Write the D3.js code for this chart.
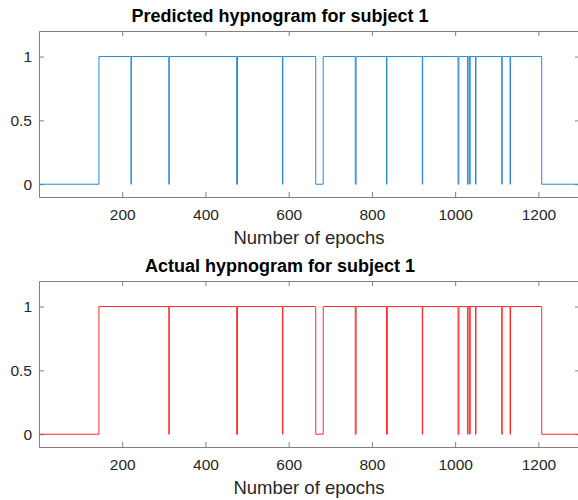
<!DOCTYPE html>
<html>
<head>
<meta charset="utf-8">
<script src="https://cdn.jsdelivr.net/npm/d3@7"></script>
<style>
  body { margin: 0; background: #fff; }
  svg { display: block; font-family: "Liberation Sans", Arial, sans-serif; }
  .axis path, .axis line { stroke: #808080; }
  .axis text { fill: #262626; font-size: 15.5px; }
</style>
</head>
<body>
<div class="chart"></div>
<script>
// Epochs where the stage changes, and the stage from that epoch on
const predictedEpochs = [1, 144, 221, 222, 312, 313, 475, 477, 585, 586, 665, 683, 760, 762, 835, 836,
  921, 922, 1007, 1009, 1030, 1031, 1035, 1036, 1049, 1050, 1112, 1113, 1132, 1133, 1208, 1300];
const predictedStages = [0, 1, 0, 1, 0, 1, 0, 1, 0, 1, 0, 1, 0, 1, 0, 1,
  0, 1, 0, 1, 0, 1, 0, 1, 0, 1, 0, 1, 0, 1, 0, 0];

const actualEpochs = [1, 144, 312, 313, 475, 477, 585, 586, 665, 683, 760, 762, 835, 837,
  921, 922, 1007, 1009, 1030, 1031, 1035, 1036, 1049, 1050, 1112, 1113, 1132, 1133, 1208, 1300];
const actualStages = [0, 1, 0, 1, 0, 1, 0, 1, 0, 1, 0, 1, 0, 1,
  0, 1, 0, 1, 0, 1, 0, 1, 0, 1, 0, 1, 0, 1, 0, 0];

const xTicks = [200, 400, 600, 800, 1000, 1200];
const yTicks = [0, 0.5, 1];

const svg = d3.select("div.chart").append("svg")
  .attr("width", 578)
  .attr("height", 500);

function drawPanel(top, title, epochs, stages, color) {
  // axes box: left 39, right 580 (cut off by the image), height 166
  const left = 39, right = 580, height = 166;

  const x = d3.scaleLinear().domain([0, 1300]).range([left, right]);
  const y = d3.scaleLinear().domain([-0.1, 1.2]).range([top + height, top]);

  const g = svg.append("g");

  // bottom x axis
  g.append("g")
    .attr("class", "axis")
    .attr("transform", `translate(0,${top + height})`)
    .call(d3.axisBottom(x).tickValues(xTicks).tickSize(-5).tickSizeOuter(0).tickPadding(12)
      .tickFormat(d3.format("d")));

  // top x axis (ticks only)
  g.append("g")
    .attr("class", "axis")
    .attr("transform", `translate(0,${top})`)
    .call(d3.axisTop(x).tickValues(xTicks).tickSize(-5).tickSizeOuter(0).tickFormat(""));

  // left y axis
  g.append("g")
    .attr("class", "axis")
    .attr("transform", `translate(${left},0)`)
    .call(d3.axisLeft(y).tickValues(yTicks).tickSize(-5).tickSizeOuter(0).tickPadding(7)
      .tickFormat(d => d));

  // right y axis (ticks only)
  g.append("g")
    .attr("class", "axis")
    .attr("transform", `translate(${right},0)`)
    .call(d3.axisRight(y).tickValues(yTicks).tickSize(-5).tickSizeOuter(0).tickFormat(""));

  // the hypnogram as a step line
  const pts = epochs.map((e, i) => [e, stages[i]]);
  const line = d3.line()
    .x(d => x(d[0]))
    .y(d => y(d[1]))
    .curve(d3.curveStepAfter);

  g.append("path")
    .datum(pts)
    .attr("fill", "none")
    .attr("stroke", color)
    .attr("stroke-width", 1)
    .attr("d", line);

  // title
  g.append("text")
    .attr("x", 280)
    .attr("y", top - 9)
    .attr("text-anchor", "middle")
    .style("font-size", "18px")
    .style("font-weight", "bold")
    .attr("fill", "#000")
    .text(title);

  // x label
  g.append("text")
    .attr("x", 309)
    .attr("y", top + height + 47)
    .attr("text-anchor", "middle")
    .style("font-size", "18.5px")
    .attr("fill", "#262626")
    .text("Number of epochs");
}

drawPanel(31, "Predicted hypnogram for subject 1", predictedEpochs, predictedStages, "#2a8ad0");
drawPanel(281, "Actual hypnogram for subject 1", actualEpochs, actualStages, "#ff2a2a");
</script>
</body>
</html>
